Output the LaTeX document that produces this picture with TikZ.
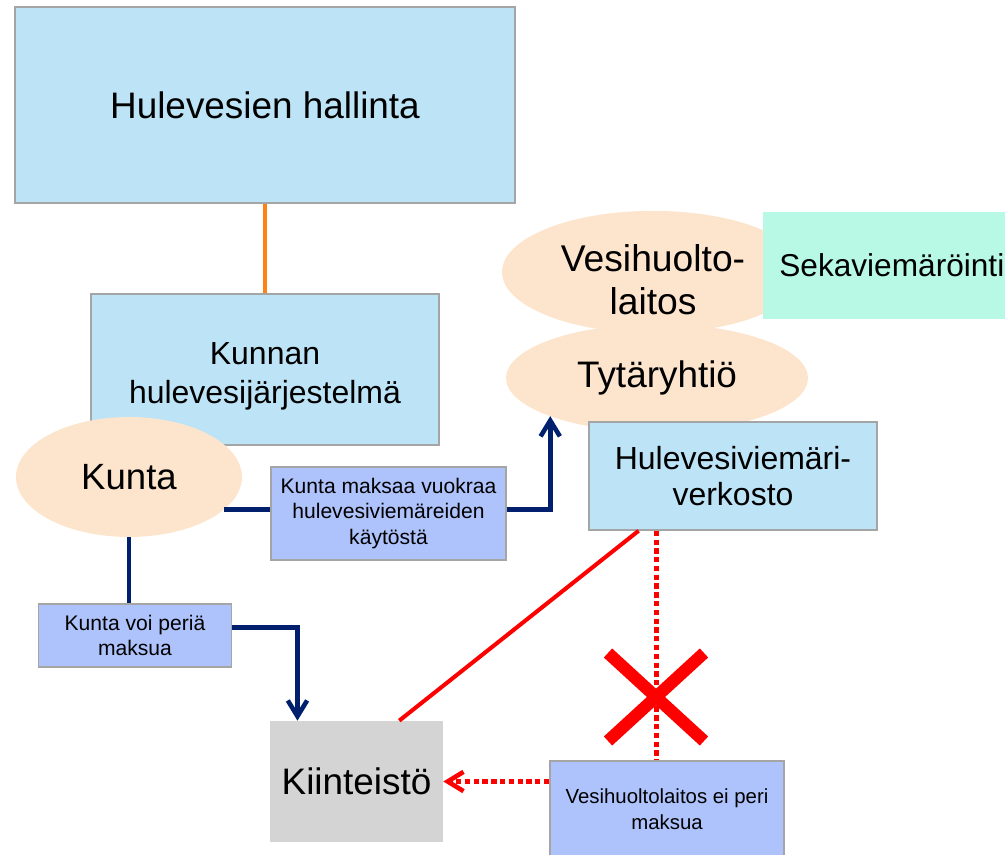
\documentclass[tikz,border=0pt]{standalone}
\usepackage{fontspec}
\setmainfont{Liberation Sans}
\usetikzlibrary{shapes.geometric,arrows.meta,calc}

\definecolor{laatikko}{RGB}{188,227,246}
\definecolor{persikka}{RGB}{253,229,205}
\definecolor{sinilila}{RGB}{174,195,252}
\definecolor{minttu}{RGB}{184,249,230}
\definecolor{harmaa}{RGB}{212,212,212}
\definecolor{reuna}{RGB}{165,165,165}
\definecolor{laivasto}{RGB}{0,32,110}
\definecolor{oranssi}{RGB}{255,130,20}

\begin{document}
\begin{tikzpicture}[x=0.02cm,y=-0.02cm,
	isolaatikko/.style={rectangle,fill=laatikko,draw=reuna,line width=0.9pt,inner sep=0pt,align=center},
	pienilaatikko/.style={rectangle,fill=sinilila,draw=reuna,line width=0.9pt,inner sep=0pt,align=center,
		font=\fontsize{12}{14.5}\selectfont},
	soikio/.style={ellipse,fill=persikka,inner sep=0pt,outer sep=0pt,align=center},
	karki/.style={-{Straight Barb[length=9pt,width=11pt]}},
	navyarrow/.style={draw=laivasto,line width=2.6pt,karki},
	navyline/.style={draw=laivasto,line width=2.6pt},
	redline/.style={draw=red,line width=2.3pt},
	reddots/.style={draw=red,line width=2.6pt,dash pattern=on 3pt off 2pt}]
	\useasboundingbox (0,0) rectangle (1005,855);

	% ylin taso
	\node[isolaatikko,minimum width=10cm,minimum height=3.92cm,font=\fontsize{21}{26}\selectfont] (hallinta) at (265,105) {Hulevesien hallinta};
	\node[isolaatikko,minimum width=6.96cm,minimum height=3.02cm,font=\fontsize{18.2}{22}\selectfont] (jarjestelma) at (265,369.5) {\rule{0pt}{20pt}Kunnan\\hulevesijärjestelmä};
	\draw[oranssi,line width=2.6pt] (hallinta.south) -- (jarjestelma.north);

	% kunta
	\node[soikio,minimum width=4.52cm,minimum height=2.4cm,font=\fontsize{20.8}{26}\selectfont] (kunta) at (129,477) {Kunta};
	\node[pienilaatikko,minimum width=4.7cm,minimum height=1.86cm] (maksaa) at (388.5,513.5) {Kunta maksaa vuokraa\\hulevesiviemäreiden\\käytöstä};
	\node[pienilaatikko,minimum width=3.86cm,minimum height=1.26cm] (voi) at (135,635.5) {Kunta voi periä\\maksua};

	% vesihuoltolaitos
	\node[soikio,minimum width=6.04cm,minimum height=2.24cm,font=\fontsize{21.2}{24.5}\selectfont] (vesihuolto) at (653,272) {\rule{0pt}{24.5pt}Vesihuolto-\\laitos};
	\node[rectangle,fill=minttu,inner sep=0pt,anchor=west,minimum width=4.84cm,minimum height=2.14cm,font=\fontsize{18}{22}\selectfont] (seka) at (763,265.5) {\hspace*{0.3cm}Sekaviemäröinti};
	\node[soikio,minimum width=6.04cm,minimum height=2.16cm,font=\fontsize{21}{25}\selectfont] (tytar) at (657,378) {Tytäryhtiö};
	\node[isolaatikko,minimum width=5.76cm,minimum height=2.16cm,font=\fontsize{18.2}{20}\selectfont] (hule) at (733,476) {Hulevesiviemäri-\\verkosto};

	% kiinteistö
	\node[rectangle,fill=harmaa,inner sep=0pt,minimum width=3.46cm,minimum height=2.42cm,font=\fontsize{21}{26}\selectfont] (kiinteisto) at (356.5,781.5) {Kiinteistö};
	\node[pienilaatikko,minimum width=4.68cm,minimum height=1.92cm,font=\fontsize{11.6}{14.5}\selectfont] (eiperi) at (667,809) {Vesihuoltolaitos ei peri\\maksua};

	% rahavirrat
	\draw[navyline] (kunta.-19) -- (maksaa.west |- kunta.-19);
	\draw[navyarrow] (maksaa.east |- kunta.-19) -| (tytar.south west);
	\draw[navyline] (kunta.south) -- (kunta.south |- voi.north);
	\draw[navyarrow] ($(voi.north east)!0.38!(voi.south east)$) -| ($(kiinteisto.north west)!0.16!(kiinteisto.north east)$);

	% viemäriverkosto
	\draw[redline] ($(kiinteisto.north west)!0.746!(kiinteisto.north east)$) -- ($(hule.south west)!0.174!(hule.south east)$);
	\coordinate (pudotus) at ($(hule.south west)!0.236!(hule.south east)$);
	\draw[reddots] (pudotus) -- (pudotus |- eiperi.north);
	\draw[reddots,karki] (eiperi.west |- kiinteisto.east) -- (kiinteisto.east);

	% risti
	\coordinate (risti) at (656,697);
	\draw[red,line width=7pt] ($(risti)+(-48,-44)$) -- ($(risti)+(48,44)$);
	\draw[red,line width=7pt] ($(risti)+(48,-44)$) -- ($(risti)+(-48,44)$);
\end{tikzpicture}
\end{document}
